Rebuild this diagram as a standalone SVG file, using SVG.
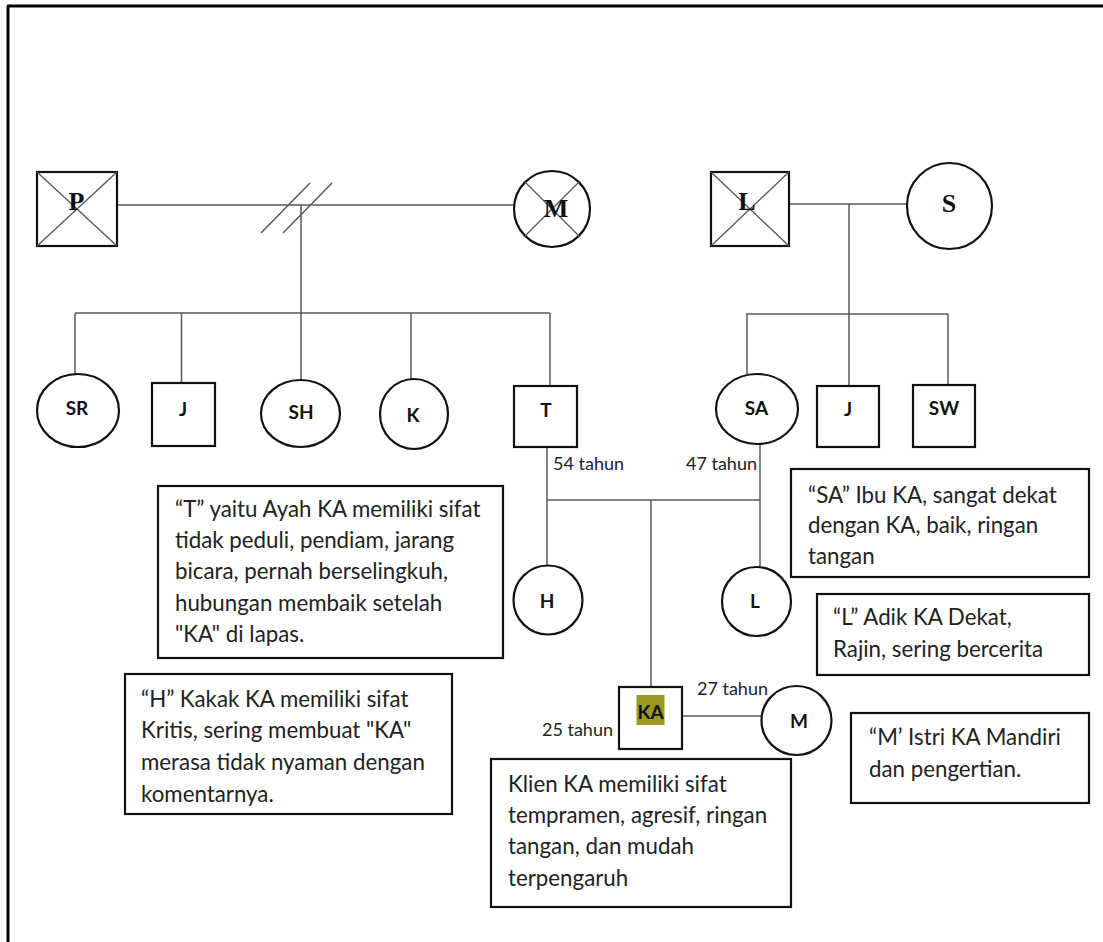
<svg xmlns="http://www.w3.org/2000/svg" width="1103" height="942" viewBox="0 0 1103 942">
<style>
.ln{stroke:#5a5a5a;stroke-width:1.5;fill:none}
.sh{stroke:#111;stroke-width:2.2;fill:#fff}
.x{stroke:#555;stroke-width:1.3}
.box{stroke:#111;stroke-width:2.2;fill:#fff}
.ser{font-family:"Liberation Serif",serif;font-weight:bold;font-size:26px;fill:#111;text-anchor:middle}
.lab{font-family:Lato,"Liberation Sans",sans-serif;font-weight:bold;font-size:19px;fill:#111;text-anchor:middle}
.t{font-family:Lato,"Liberation Sans",sans-serif;font-size:22.3px;fill:#222}
.age{font-family:Lato,"Liberation Sans",sans-serif;font-size:18px;fill:#222}
</style>
<rect width="1103" height="942" fill="#fff"/>
<path d="M7 6H1103M8 6V942" stroke="#000" stroke-width="3" fill="none"/>

<g id="connectors">
<path class="ln" d="M117 205H514M261 233L310 183M283 233L332 183M301 205V313"/>
<path class="ln" d="M789 204H907M849 204V314"/>
<path class="ln" d="M75 313H550M75 313V374M181.5 313V383M301 313V380M411 313V379M550 313V386"/>
<path class="ln" d="M746 314H948M747 314V374M849 314V386M948 314V385"/>
<path class="ln" d="M547 447V566M547 500H760M760 444V567M651 500V687"/>
<path class="ln" d="M682 716H761.5"/>
</g>

<g id="node-P">
<rect class="sh" x="37" y="172" width="80" height="74"/>
<path class="x" d="M37 172L117 246M117 172L37 246"/>
<text class="ser" x="76.5" y="210">P</text>
</g>
<g id="node-M-top">
<ellipse class="sh" cx="552" cy="209" rx="38" ry="38"/>
<path class="x" d="M525 182L579 236M579 182L525 236"/>
<text class="ser" x="556" y="217">M</text>
</g>
<g id="node-L-top">
<rect class="sh" x="711" y="172" width="78" height="74"/>
<path class="x" d="M711 172L789 246M789 172L711 246"/>
<text class="ser" x="747" y="210">L</text>
</g>
<g id="node-S">
<ellipse class="sh" cx="949.5" cy="206" rx="42.5" ry="43"/>
<text class="ser" x="949" y="212">S</text>
</g>

<g id="node-SR"><ellipse class="sh" cx="78" cy="410.5" rx="41" ry="36.5"/><text class="lab" x="77" y="415">SR</text></g>
<g id="node-J1"><rect class="sh" x="152" y="383" width="63" height="63"/><text class="lab" x="183" y="416">J</text></g>
<g id="node-SH"><ellipse class="sh" cx="300.5" cy="413.5" rx="39.5" ry="33.5"/><text class="lab" x="301" y="419">SH</text></g>
<g id="node-K"><ellipse class="sh" cx="414" cy="414" rx="34" ry="35"/><text class="lab" x="413" y="422">K</text></g>
<g id="node-T"><rect class="sh" x="514" y="386" width="63" height="61"/><text class="lab" x="546" y="417">T</text></g>
<g id="node-SA"><ellipse class="sh" cx="757" cy="409" rx="41" ry="35"/><text class="lab" x="756.5" y="415">SA</text></g>
<g id="node-J2"><rect class="sh" x="817" y="386" width="62" height="61"/><text class="lab" x="848" y="416">J</text></g>
<g id="node-SW"><rect class="sh" x="913" y="385" width="62" height="62"/><text class="lab" x="944" y="415">SW</text></g>

<g id="ages">
<text class="age" x="553" y="470">54 tahun</text>
<text class="age" x="757" y="470" text-anchor="end">47 tahun</text>
<text class="age" x="613" y="736" text-anchor="end">25 tahun</text>
<text class="age" x="768" y="695" text-anchor="end" font-size="16.5">27 tahun</text>
</g>

<g id="node-H"><ellipse class="sh" cx="548" cy="600" rx="34.5" ry="34.5"/><text class="lab" x="547" y="608">H</text></g>
<g id="node-L"><ellipse class="sh" cx="756.5" cy="601.5" rx="34.5" ry="34.5"/><text class="lab" x="755" y="608">L</text></g>
<g id="node-KA">
<rect class="sh" x="619" y="687" width="63" height="62"/>
<rect x="636.5" y="695" width="28" height="30" fill="#9a9a22"/>
<text class="lab" x="650.5" y="719">KA</text>
</g>
<g id="node-M"><ellipse class="sh" cx="796.5" cy="720.5" rx="35" ry="34.5"/><text class="lab" x="799" y="728">M</text></g>

<g id="note-T">
<rect class="box" x="158" y="486" width="345" height="172"/>
<text class="t" x="175" y="517">“T” yaitu Ayah KA memiliki sifat</text>
<text class="t" x="175" y="548">tidak peduli, pendiam, jarang</text>
<text class="t" x="175" y="579">bicara, pernah berselingkuh,</text>
<text class="t" x="175" y="611">hubungan membaik setelah</text>
<text class="t" x="175" y="642">"KA" di lapas.</text>
</g>
<g id="note-SA">
<rect class="box" x="791" y="469" width="298" height="108"/>
<text class="t" x="808" y="503">“SA” Ibu KA, sangat dekat</text>
<text class="t" x="808" y="533">dengan KA, baik, ringan</text>
<text class="t" x="808" y="564">tangan</text>
</g>
<g id="note-L">
<rect class="box" x="817" y="594" width="272" height="81"/>
<text class="t" x="833" y="625">“L” Adik KA Dekat,</text>
<text class="t" x="833" y="657">Rajin, sering bercerita</text>
</g>
<g id="note-H">
<rect class="box" x="125" y="674" width="327" height="140"/>
<text class="t" x="141" y="707">“H” Kakak KA memiliki sifat</text>
<text class="t" x="141" y="738">Kritis, sering membuat "KA"</text>
<text class="t" x="141" y="770">merasa tidak nyaman dengan</text>
<text class="t" x="141" y="802">komentarnya.</text>
</g>
<g id="note-M">
<rect class="box" x="851" y="713" width="238" height="90"/>
<text class="t" x="869" y="745">“M’ Istri KA Mandiri</text>
<text class="t" x="869" y="777">dan pengertian.</text>
</g>
<g id="note-KA">
<rect class="box" x="491" y="759" width="300" height="148"/>
<text class="t" x="508" y="792">Klien KA memiliki sifat</text>
<text class="t" x="508" y="823">tempramen, agresif, ringan</text>
<text class="t" x="508" y="854">tangan, dan mudah</text>
<text class="t" x="508" y="886">terpengaruh</text>
</g>
</svg>
